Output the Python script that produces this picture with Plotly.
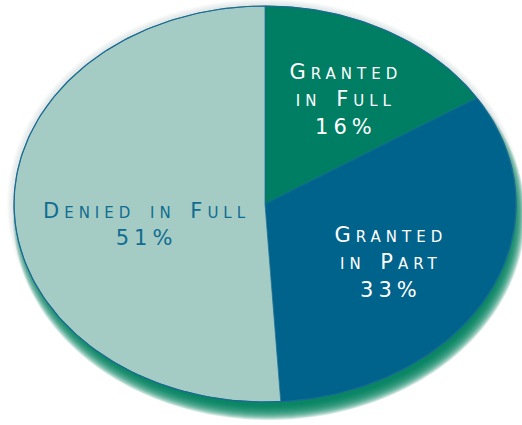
import numpy as np
import plotly.graph_objects as go

# ---- data ----
categories = ["Granted in Full", "Granted in Part", "Denied in Full"]
percent = [16, 33, 51]
label_text = ["Granted<br>in Full<br>16%", "Granted<br>in Part<br>33%", "Denied in Full<br>51%"]

# ---- style ----
slice_colors = ["#007E63", "#00638C", "#A4CCC4"]
text_colors = ["#FFFFFF", "#FFFFFF", "#116C91"]
label_pos = [(346, 99), (391, 262), (147, 224)]
W, H = 522, 425
CX, CY, RX, RY = 265, 204, 251, 198
OUTLINE = "#1A6B92"


def ellipse(cx, cy, rx, ry, n=240):
    t = np.linspace(0, 2 * np.pi, n)
    return cx + rx * np.sin(t), cy - ry * np.cos(t)


fig = go.Figure()

# soft light glow around the whole ellipse
for k in range(7, 0, -1):
    x, y = ellipse(CX, CY, RX + k, RY + k)
    fig.add_trace(go.Scatter(x=x, y=y, fill="toself", mode="none",
                             fillcolor="rgba(150,170,170,0.05)", hoverinfo="skip"))

# green drop shadow (blurred by stacking)
for k in range(7, -9, -1):
    x, y = ellipse(CX + 4, CY + 12, RX - 2 + k, RY - 1 + k)
    fig.add_trace(go.Scatter(x=x, y=y, fill="toself", mode="none",
                             fillcolor="rgba(0,128,95,0.17)", hoverinfo="skip"))

# slices (pie: start at top, clockwise)
total = sum(percent)
start = 0.0
for cat, val, col in zip(categories, percent, slice_colors):
    a0 = 2 * np.pi * start / total
    a1 = 2 * np.pi * (start + val) / total
    t = np.linspace(a0, a1, max(int(val * 4), 20))
    xs = np.concatenate([[CX], CX + RX * np.sin(t), [CX]])
    ys = np.concatenate([[CY], CY - RY * np.cos(t), [CY]])
    fig.add_trace(go.Scatter(x=xs, y=ys, fill="toself", mode="lines",
                             fillcolor=col, line=dict(color=OUTLINE, width=0.7),
                             name=cat, hoverinfo="name"))
    start += val

# outline
x, y = ellipse(CX, CY, RX, RY, 360)
fig.add_trace(go.Scatter(x=x, y=y, mode="lines", line=dict(color=OUTLINE, width=1.2),
                         hoverinfo="skip"))

for txt, col, (px, py) in zip(label_text, text_colors, label_pos):
    fig.add_annotation(x=px, y=py, xref="x", yref="y", text=txt, showarrow=False,
                       align="center",
                       font=dict(family="DejaVu Sans", size=21, color=col, variant="small-caps"))

fig.update_layout(
    width=W, height=H, margin=dict(l=0, r=0, t=0, b=0),
    paper_bgcolor="white", plot_bgcolor="white", showlegend=False,
    xaxis=dict(range=[0, W], visible=False, fixedrange=True),
    yaxis=dict(range=[H, 0], visible=False, fixedrange=True),
)

post = """
document.body.style.margin = '0';
var gd = document.getElementById('{plot_id}');
function sp(){ gd.querySelectorAll('.annotation-text').forEach(function(t){ t.style.letterSpacing='5px'; t.style.wordSpacing='3px'; }); }
sp();
gd.on('plotly_afterplot', sp);
"""
fig.write_html("out.html", post_script=post, config={"displayModeBar": False})
